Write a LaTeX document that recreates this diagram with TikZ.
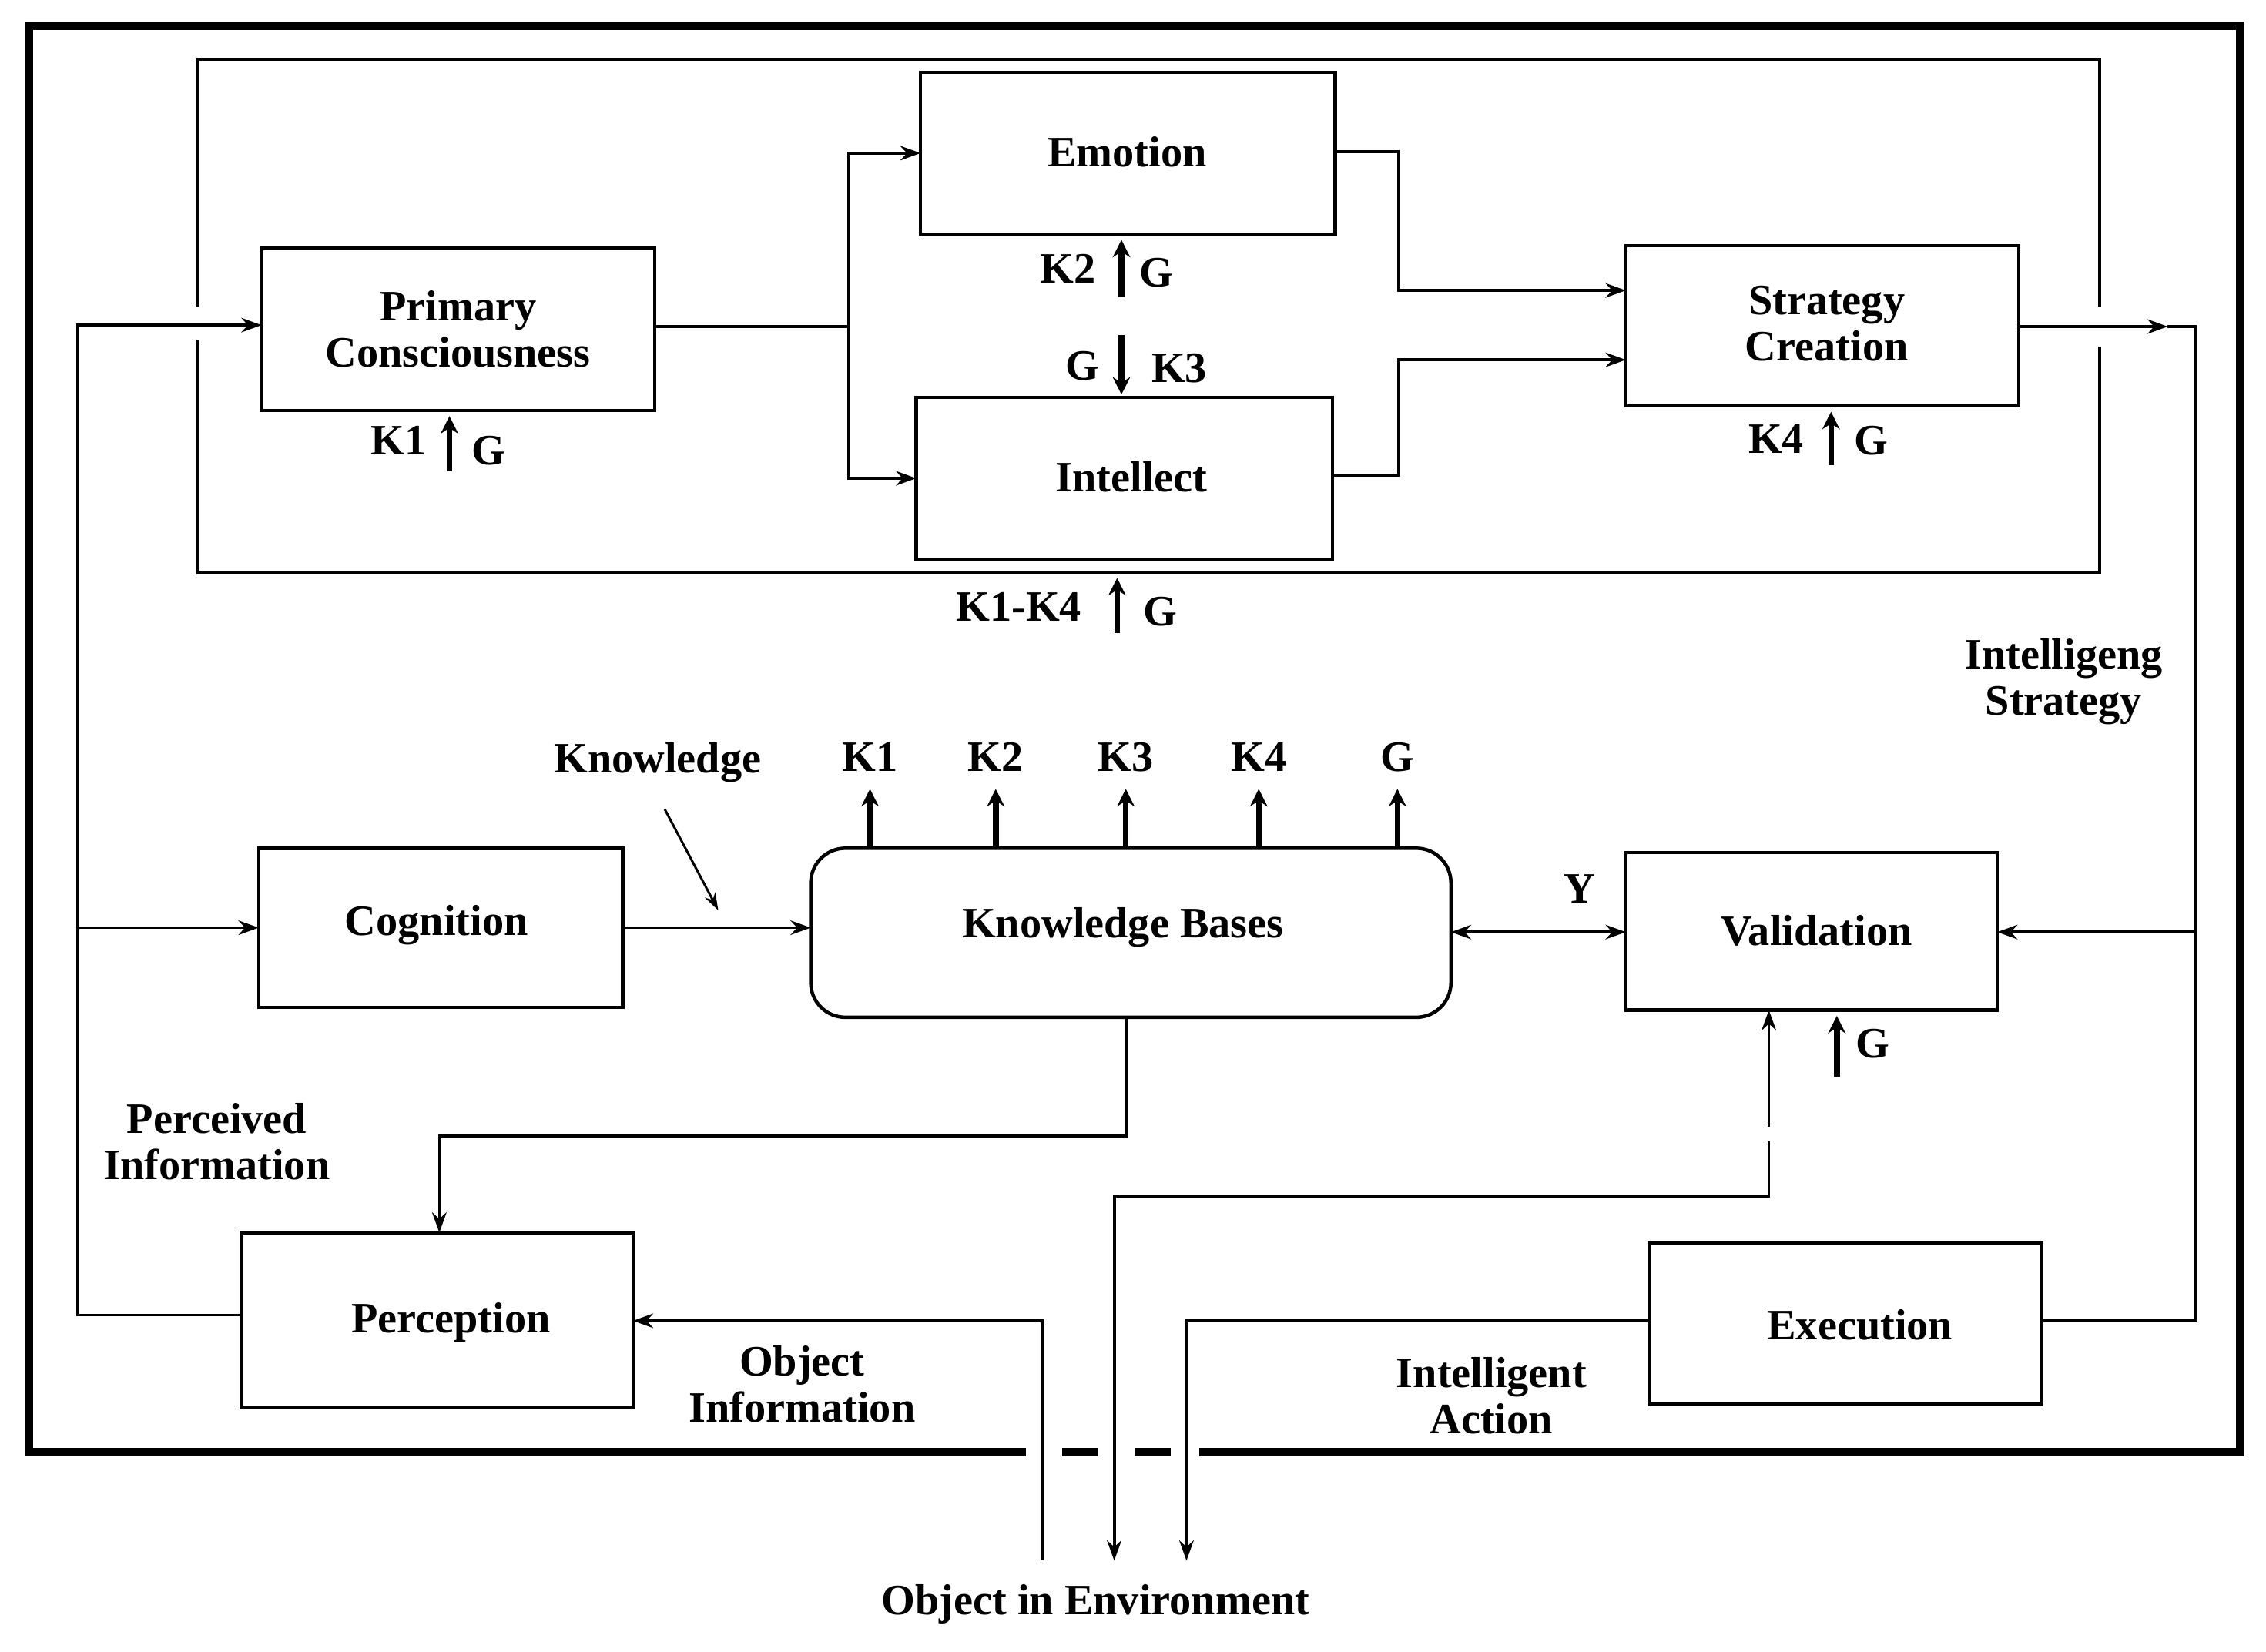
\documentclass[tikz,border=0pt]{standalone}
\usepackage{fontspec}
\setmainfont{Liberation Serif}
\usetikzlibrary{arrows.meta}
\begin{document}
\begin{tikzpicture}[x=0.5pt,y=-0.5pt,
  box/.style={draw,line width=1.2pt,inner sep=0},
  lbl/.style={font=\bfseries\fontsize{15}{16}\selectfont,align=center,inner sep=0},
  ln/.style={line width=1pt},
  ar/.style={line width=1pt,-{Stealth[length=7pt,width=5pt]}},
  up/.style={line width=2pt,-{Stealth[length=6pt,width=6pt]}}]
\useasboundingbox (0,0) rectangle (1568,1143);
% outer frame
\draw[line width=3pt] (710,1005) -- (20,1005) -- (20,18) -- (1550,18) -- (1550,1005) -- (830,1005);
\draw[line width=3pt] (735,1005) -- (760,1005) (785,1005) -- (810,1005);
% inner frame
\draw[ln] (137,212) -- (137,41) -- (1453,41) -- (1453,212);
\draw[ln] (137,235) -- (137,396) -- (1453,396) -- (1453,240);
% boxes
\draw[box] (181,172) rectangle (453,284); \node[lbl] (pc) at (317,228) {Primary\\Consciousness};
\draw[box] (637,50) rectangle (924,162); \node[lbl] (em) at (780,105) {Emotion};
\draw[box] (634,275) rectangle (922,387); \node[lbl] (in) at (783,330) {Intellect};
\draw[box] (1125,170) rectangle (1397,281); \node[lbl] (sc) at (1264,224) {Strategy\\Creation};
\draw[box] (179,587) rectangle (431,697); \node[lbl] (cg) at (302,640) {Cognition};
\draw[box,rounded corners=12pt] (561,587) rectangle (1004,704); \node[lbl] (kb) at (777,642) {Knowledge Bases};
\draw[box] (1125,590) rectangle (1382,699); \node[lbl] (va) at (1257,644) {Validation};
\draw[box] (167,853) rectangle (438,974); \node[lbl] (pe) at (312,915) {Perception};
\draw[box] (1141,860) rectangle (1413,972); \node[lbl] (ex) at (1287,917) {Execution};
% upper connectors
\draw[ln] (453,226) -- (587,226);
\draw[ar] (587,226) |- (637,106);
\draw[ar] (587,226) |- (634,331);
\draw[ar] (924,105) -| (968,201) -- (1125,201);
\draw[ar] (922,329) -| (968,249) -- (1125,249);
\draw[ar] (1397,226) -- (1500,226);
\draw[ln] (1500,226) -- (1519,226) -- (1519,914) -- (1413,914);
\draw[ar] (1519,645) -- (1382,645);
% left loop
\draw[ar] (167,910) -- (54,910) -- (54,225) -- (181,225);
\draw[ar] (54,642) -- (179,642);
\draw[ar] (431,642) -- (561,642);
\draw[line width=0.8pt,-{Stealth[length=6pt,width=4pt]}] (460,560) -- (497,630);
% KB outputs
\foreach \x/\t in {602/K1,689/K2,779/K3,871/K4,967/G}{
  \draw[up] (\x,587) -- (\x,546);
  \node[lbl] at (\x,524) {\t};}
\draw[ar] (1060,645) -- (1004,645);
\draw[ar] (1060,645) -- (1125,645);
\node[lbl] at (1093,615) {Y};
\draw[ar] (779,704) -- (779,786) -| (304,853);
% validation
\draw[up] (1271,745) -- (1271,703); \node[lbl] at (1296,722) {G};
\draw[ar] (1224,780) -- (1224,699);
\draw[ar] (1224,790) -- (1224,828) -| (771,1080);
\draw[ar] (1141,914) -| (821,1080);
\draw[ar] (721,1080) |- (438,914);
% K labels
\draw[up] (311,326) -- (311,288); \node[lbl] at (276,305) {K1}; \node[lbl] at (338,312) {G};
\draw[up] (776,206) -- (776,166); \node[lbl] at (739,186) {K2}; \node[lbl] at (800,189) {G};
\draw[up] (776,232) -- (776,273); \node[lbl] at (749,253) {G}; \node[lbl] at (816,255) {K3};
\draw[up] (1267,322) -- (1267,285); \node[lbl] at (1229,304) {K4}; \node[lbl] at (1295,305) {G};
\draw[up] (773,438) -- (773,400); \node[lbl] at (705,420) {K1-K4}; \node[lbl] at (803,423) {G};
% labels
\node[lbl] at (455,528) {Knowledge};
\node[lbl] at (150,790) {Perceived\\Information};
\node[lbl] at (555,958) {Object\\Information};
\node[lbl] at (1032,966) {Intelligent\\Action};
\node[lbl] at (1428,472) {Intelligeng\\Strategy};
\node[lbl] at (758,1110) {Object in Environment};
\end{tikzpicture}
\end{document}
